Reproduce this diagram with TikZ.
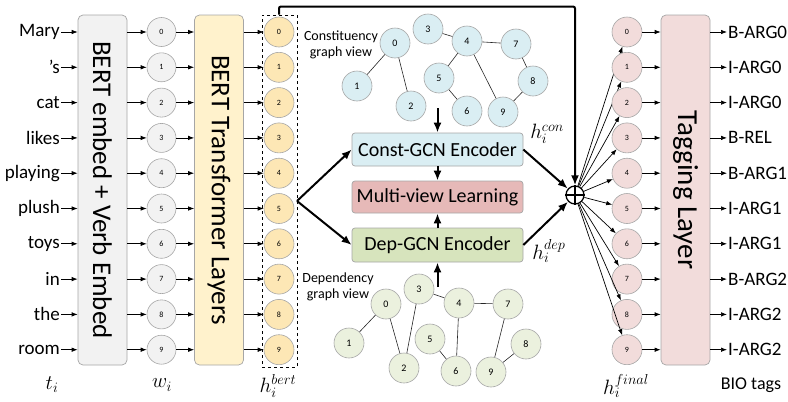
\documentclass[tikz,border=0pt]{standalone}
\usepackage{fontspec}
\setmainfont{Carlito}
\usetikzlibrary{arrows.meta,calc}
\definecolor{embfill}{HTML}{F2F2F2}
\definecolor{trfill}{HTML}{FFF2CC}
\definecolor{bfill}{HTML}{FDE7B5}
\definecolor{ffill}{HTML}{F2DCDB}
\definecolor{cfill}{HTML}{DAEEF3}
\definecolor{mfill}{HTML}{E6B9B8}
\definecolor{dfill}{HTML}{D7E4BD}
\definecolor{dnode}{HTML}{EBF1DE}
\definecolor{edgegray}{HTML}{A6A6A6}
\begin{document}
\begin{tikzpicture}[x=1pt,y=-1pt,
  every node/.style={font=\fontsize{19}{19}\selectfont},
  tarr/.style={-{Latex[length=6pt,width=4.5pt]}, line width=0.7pt},
  karr/.style={-{Latex[length=10pt,width=8pt]}, line width=2pt},
  smallc/.style={circle, draw=edgegray, line width=0.6pt, minimum size=29pt, inner sep=0pt, font=\fontsize{8}{8}\selectfont},
  gnode/.style={circle, draw=edgegray, line width=0.6pt, minimum size=30pt, inner sep=0pt, font=\fontsize{10}{10}\selectfont},
  bigbox/.style={draw=edgegray, line width=0.7pt, rounded corners=5pt, inner sep=0pt, minimum width=49pt, minimum height=350pt},
  bigtext/.style={rotate=-90, font=\fontsize{27}{27}\selectfont},
  midbox/.style={draw=edgegray, line width=0.7pt, rounded corners=3pt, minimum width=171pt, inner sep=0pt, font=\fontsize{20}{20}\selectfont},
  gedge/.style={line width=0.6pt, black!85},
  mlabel/.style={font=\fontsize{20}{20}\selectfont, inner sep=0pt}
]
\useasboundingbox (0,0) rectangle (788,402);

% big boxes
\node[bigbox, fill=embfill] (emb) at (102.5,190) {};
\node[bigtext] at (emb.center) {BERT embed + Verb Embed};
\node[bigbox, fill=trfill] (tr) at (219,190) {};
\node[bigtext] at (tr.center) {BERT Transformer Layers};
\node[bigbox, fill=ffill] (tag) at (685.5,190) {};
\node[bigtext, font=\fontsize{29}{29}\selectfont] at (tag.center) {Tagging Layer};

% dashed box around h^bert
\node[draw, dashed, line width=1pt, minimum width=35pt, minimum height=352pt, inner sep=0pt] (bbox) at (279.5,191) {};

% oplus
\node[circle, draw, line width=1.3pt, minimum size=18pt, inner sep=0pt] (op) at (575,195) {};
\draw[line width=1.3pt] (op.north) -- (op.south) (op.west) -- (op.east);

% rows
\foreach \w [count=\n from 0] in {Mary,’s,cat,likes,playing,plush,toys,in,the,room}{
  \node[anchor=east, inner sep=1pt] (word\n) at (61,{32+35.3*\n}) {\w};
  \draw[tarr] (word\n.east) -- (emb.west |- word\n.east);
}
\foreach \t [count=\n from 0] in {B-ARG0,I-ARG0,I-ARG0,B-REL,B-ARG1,I-ARG1,I-ARG1,B-ARG2,I-ARG2,I-ARG2}{
  \node[anchor=west, inner sep=1pt] (tg\n) at (727,{32+35.3*\n}) {\t};
}
\foreach \n in {0,...,9}{
  \node[smallc, fill=embfill] (w\n) at (161.5,{32+35.3*\n}) {\n};
  \node[smallc, fill=bfill, minimum size=30pt] (b\n) at (279,{32+35.3*\n}) {\n};
  \node[smallc, fill=ffill, minimum size=30pt] (f\n) at (627,{32+35.3*\n}) {\n};
  \draw[tarr] (emb.east |- w\n) -- (w\n);
  \draw[tarr] (w\n) -- (tr.west |- w\n);
  \draw[tarr] (tr.east |- b\n) -- (b\n);
  \draw[tarr] (f\n) -- (tag.west |- f\n);
  \draw[tarr] (tag.east |- tg\n.west) -- (tg\n.west);
  \draw[tarr] (op) -- (f\n);
}

% middle boxes
\node[midbox, fill=cfill, minimum height=33pt] (con) at (437.5,149.5) {Const-GCN Encoder};
\node[midbox, fill=mfill, minimum height=32pt] (mv) at (437.5,197) {Multi-view Learning};
\node[midbox, fill=dfill, minimum height=34pt] (dep) at (437.5,245) {Dep-GCN Encoder};

% constituency graph
\begin{scope}[every node/.append style={gnode, fill=cfill}]
\node (c0) at (395,43) {0};
\node (c1) at (357,86) {1};
\node (c2) at (411,106) {2};
\node (c3) at (428,29) {3};
\node (c4) at (467,41) {4};
\node (c5) at (439,78) {5};
\node (c6) at (467,111) {6};
\node (c7) at (516,44) {7};
\node (c8) at (533,81) {8};
\node (c9) at (503,112) {9};
\end{scope}
\draw[gedge] (c0) -- (c1) (c0) -- (c2) (c3) -- (c4) (c4) -- (c7) (c4) -- (c5)
  (c5) -- (c6) (c4) -- (c9) (c7) -- (c8) (c8) -- (c9);
\node[align=center, font=\fontsize{14}{16}\selectfont] (ctext) at (341,45) {Constituency\\graph view};

% dependency graph
\begin{scope}[every node/.append style={gnode, fill=dnode}]
\node (d0) at (386,304) {0};
\node (d1) at (349,343) {1};
\node (d2) at (404,368) {2};
\node (d3) at (419,289) {3};
\node (d4) at (459,303) {4};
\node (d5) at (430,339) {5};
\node (d6) at (456,371) {6};
\node (d7) at (508,304) {7};
\node (d8) at (526,344) {8};
\node (d9) at (491,372) {9};
\end{scope}
\draw[gedge] (d0) -- (d1) (d0) -- (d2) (d2) -- (d3) (d3) -- (d4) (d4) -- (d7)
  (d4) -- (d6) (d5) -- (d6) (d7) -- (d9) (d9) -- (d8);
\node[align=center, font=\fontsize{14}{16}\selectfont] (dtext) at (338,287) {Dependency\\graph view};

% thick arrows
\coordinate (cg) at (437.5,108);
\coordinate (dg) at (437.5,287);
\coordinate (bx5) at (297,201);
\draw[karr] (cg) -- (con.north);
\draw[karr] (con.south) -- (mv.north);
\draw[karr] (dep.north) -- (mv.south);
\draw[karr] (dg) -- (dep.south);
\draw[karr] (bx5) -- (con.west);
\draw[karr] (bx5) -- (dep.west);
\draw[karr] (con.east) -- (op);
\draw[karr] (dep.east) -- (op);
\draw[karr, rounded corners=2pt] (bbox.north -| b0) -- ++(0,-8) -| (op.north);

% labels
\node[mlabel] (hcon) at (547,134) {$h_i^{con}$};
\node[mlabel] (hdep) at (549,251) {$h_i^{dep}$};
\node[mlabel] (lt) at (52,385) {$t_i$};
\node[mlabel] (lw) at (162,385) {$w_i$};
\node[mlabel] (lb) at (278,386) {$h_i^{bert}$};
\node[mlabel] (lf) at (626,386) {$h_i^{final}$};
\node[font=\fontsize{18}{18}\selectfont] (lbio) at (751,385) {BIO tags};
\end{tikzpicture}
\end{document}
